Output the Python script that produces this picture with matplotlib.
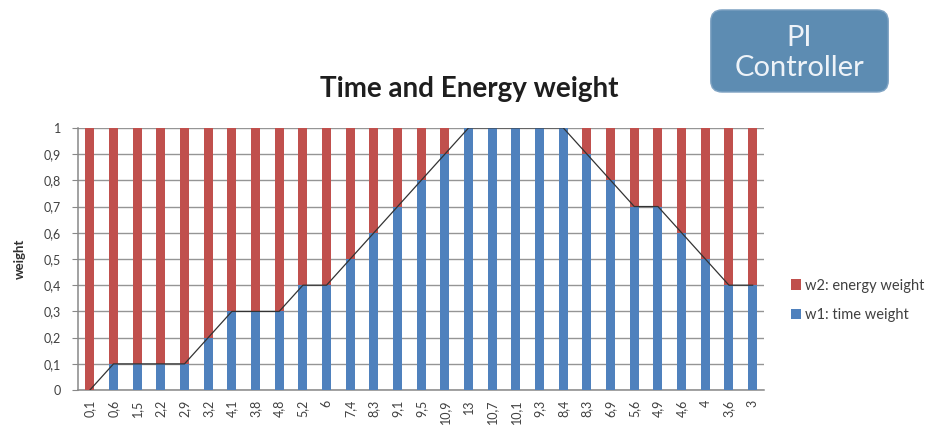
import numpy as np
import matplotlib.pyplot as plt
from matplotlib.patches import FancyBboxPatch

plt.rcParams['font.family'] = ['Lato', 'DejaVu Sans']

# controller output per step (category labels, decimal comma)
steps = ['0,1', '0,6', '1,5', '2,2', '2,9', '3,2', '4,1', '3,8', '4,8', '5,2',
         '6', '7,4', '8,3', '9,1', '9,5', '10,9', '13', '10,7', '10,1', '9,3',
         '8,4', '8,3', '6,9', '5,6', '4,9', '4,6', '4', '3,6', '3']
w1 = [0.0, 0.1, 0.1, 0.1, 0.1, 0.2, 0.3, 0.3, 0.3, 0.4,
      0.4, 0.5, 0.6, 0.7, 0.8, 0.9, 1.0, 1.0, 1.0, 1.0,
      1.0, 0.9, 0.8, 0.7, 0.7, 0.6, 0.5, 0.4, 0.4]
w2 = [round(1 - v, 2) for v in w1]

blue = '#4F81BD'
red = '#C0504D'

fig = plt.figure(figsize=(9.34, 4.32), dpi=100)
ax = fig.add_axes([0.0835, 0.097, 0.735, 0.607])

x = np.arange(len(steps))
ax.bar(x, w1, width=0.38, color=blue, label='w1: time weight', zorder=3)
ax.bar(x, w2, width=0.38, bottom=w1, color=red, label='w2: energy weight', zorder=3)
ax.plot(x, w1, color='#333333', lw=0.9, zorder=4)

ax.set_xlim(-0.5, len(steps) - 0.5)
ax.set_ylim(0, 1)
ax.set_yticks(np.arange(0, 1.01, 0.1))
ax.set_yticklabels(['0'] + ['0,%d' % i for i in range(1, 10)] + ['1'])
ax.set_xticks(x)
ax.set_xticklabels(steps, rotation=90)
ax.tick_params(axis='y', labelsize=9, colors='#404040', length=4, color='#888888', pad=8)
ax.tick_params(axis='x', labelsize=9, colors='#404040', length=0, pad=7)
ax.grid(axis='y', color='#959595', lw=1.0, zorder=0)
for s in ['top', 'right']:
    ax.spines[s].set_visible(False)
for s in ['left', 'bottom']:
    ax.spines[s].set_color('#888888')
    ax.spines[s].set_linewidth(1.1)
ax.set_ylabel('weight', fontsize=9.5, fontweight='bold', color='#303030')
ax.yaxis.set_label_coords(-0.076, 0.5)

fig.text(0.502, 0.795, 'Time and Energy weight', ha='center', va='center',
         fontsize=20, fontweight='bold', color='#1e1e1e')

h, l = ax.get_legend_handles_labels()
fig.legend(h[::-1], l[::-1], loc='center left', bbox_to_anchor=(0.833, 0.305),
           frameon=False, fontsize=10.5, handlelength=0.7, handleheight=0.7,
           handletextpad=0.25, labelspacing=1.05, labelcolor='#404040')

# controller box in the upper right corner
box = FancyBboxPatch((0.761, 0.787), 0.190, 0.190, transform=fig.transFigure,
                     boxstyle='round,pad=0,rounding_size=0.012',
                     facecolor='#5D8CB2', edgecolor='#7FA3C3', lw=1.0,
                     mutation_aspect=2.16)
fig.patches.append(box)
fig.text(0.856, 0.878, 'PI\nController', ha='center', va='center',
         fontsize=21, color='#EEF3F8', linespacing=1.2)

fig.savefig('out.png', dpi=100)
